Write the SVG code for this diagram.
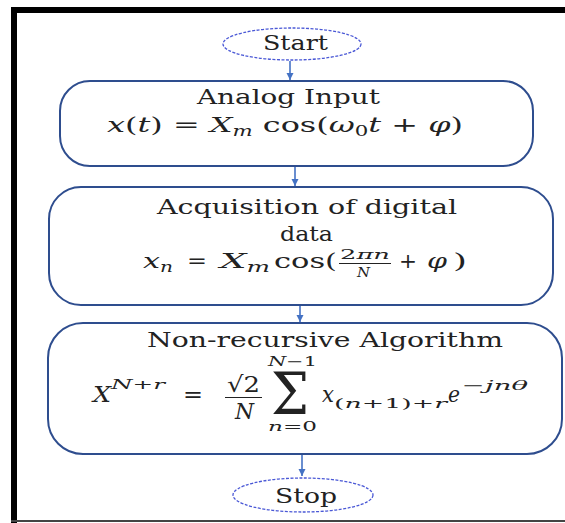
<svg xmlns="http://www.w3.org/2000/svg" width="565" height="523" viewBox="0 0 565 523">
<defs>
<style>
text{font-family:'DejaVu Serif','Liberation Serif','Times New Roman',serif;fill:#222;}
.m{font-style:italic;}
.u{font-style:normal;}
.box{fill:#fff;stroke:#2e4d8e;stroke-width:2;}
.ell{fill:#fff;stroke:#4a58d6;stroke-width:1.3;stroke-dasharray:3 1.5;}
.con{stroke:#4472c4;stroke-width:1.6;fill:none;}
</style>
<marker id="ah" viewBox="0 0 10 10" refX="10" refY="5" markerWidth="4.5" markerHeight="4.5" orient="auto" markerUnits="strokeWidth">
<path d="M0,0 L10,5 L0,10 z" fill="#4472c4"/>
</marker>
</defs>
<rect x="0" y="0" width="565" height="523" fill="#fff"/>
<rect x="11" y="7" width="554" height="6" fill="#000"/>
<rect x="11" y="7" width="6" height="516" fill="#000"/>
<rect x="11" y="520" width="554" height="2" fill="#444"/>

<g id="connectors">
<line class="con" x1="290" y1="61" x2="290" y2="80" marker-end="url(#ah)"/>
<line class="con" x1="295" y1="166" x2="295" y2="186" marker-end="url(#ah)"/>
<line class="con" x1="300" y1="305" x2="300" y2="322" marker-end="url(#ah)"/>
<line class="con" x1="302" y1="455" x2="302" y2="476" marker-end="url(#ah)"/>
</g>

<g id="start">
<ellipse class="ell" cx="292" cy="44" rx="69" ry="16"/>
<text x="263" y="50" font-size="21" textLength="65" lengthAdjust="spacingAndGlyphs">Start</text>
</g>

<g id="analog">
<rect class="box" x="60" y="81" width="473" height="85" rx="30"/>
<text x="197" y="104" font-size="21" textLength="183" lengthAdjust="spacingAndGlyphs">Analog Input</text>
<text class="m" x="107" y="132" font-size="21" textLength="356" lengthAdjust="spacingAndGlyphs">x<tspan class="u">(</tspan>t<tspan class="u">) = </tspan>X<tspan font-size="14" dy="4">m</tspan><tspan class="u" dy="-4"> cos(</tspan>ω<tspan class="u" font-size="14" dy="4">0</tspan><tspan dy="-4">t</tspan><tspan class="u"> + </tspan>φ<tspan class="u">)</tspan></text>
</g>

<g id="acquisition">
<rect class="box" x="49" y="187" width="504" height="118" rx="32"/>
<text x="157" y="214" font-size="21" textLength="300" lengthAdjust="spacingAndGlyphs">Acquisition of digital</text>
<text x="280" y="241" font-size="21" textLength="53" lengthAdjust="spacingAndGlyphs">data</text>
<text class="m" x="143" y="268" font-size="21" textLength="30" lengthAdjust="spacingAndGlyphs">x<tspan font-size="14" dy="4">n</tspan></text>
<text class="u" x="187" y="268" font-size="21" textLength="20" lengthAdjust="spacingAndGlyphs">=</text>
<text class="m" x="220" y="268" font-size="21" textLength="50" lengthAdjust="spacingAndGlyphs">X<tspan font-size="14" dy="4">m</tspan></text>
<text class="u" x="274" y="268" font-size="21" textLength="63" lengthAdjust="spacingAndGlyphs">cos(</text>
<text class="m" x="340" y="259" font-size="13" textLength="50" lengthAdjust="spacingAndGlyphs"><tspan class="u">2</tspan>πn</text>
<line x1="339" y1="263.5" x2="391" y2="263.5" stroke="#222" stroke-width="1"/>
<text class="m" x="357" y="277" font-size="13" textLength="13" lengthAdjust="spacingAndGlyphs">N</text>
<text class="u" x="399" y="268" font-size="21" textLength="18" lengthAdjust="spacingAndGlyphs">+</text>
<text class="m" x="427" y="268" font-size="21" textLength="20" lengthAdjust="spacingAndGlyphs">φ</text>
<text class="u" x="453" y="268" font-size="21" textLength="14" lengthAdjust="spacingAndGlyphs">)</text>
</g>

<g id="algorithm">
<rect class="box" x="48" y="323" width="514" height="131" rx="35"/>
<text x="147" y="347" font-size="21" textLength="356" lengthAdjust="spacingAndGlyphs">Non-recursive Algorithm</text>
<text class="m" x="93" y="402" font-size="22" textLength="18" lengthAdjust="spacingAndGlyphs">X</text>
<text class="m" x="111" y="389" font-size="13" textLength="54" lengthAdjust="spacingAndGlyphs">N<tspan class="u">+</tspan>r</text>
<text class="u" x="183" y="402" font-size="22" textLength="20" lengthAdjust="spacingAndGlyphs">=</text>
<text class="u" x="227" y="392" font-size="22" textLength="33" lengthAdjust="spacingAndGlyphs">√2</text>
<line x1="225" y1="397.5" x2="262" y2="397.5" stroke="#222" stroke-width="1.2"/>
<text class="m" x="235" y="419" font-size="22" textLength="19" lengthAdjust="spacingAndGlyphs">N</text>
<text class="m" x="268" y="366" font-size="13" textLength="49" lengthAdjust="spacingAndGlyphs">N<tspan class="u">−1</tspan></text>
<text class="u" x="271" y="414" font-size="58" textLength="38" lengthAdjust="spacingAndGlyphs">Σ</text>
<text class="m" x="268" y="431" font-size="13" textLength="49" lengthAdjust="spacingAndGlyphs">n<tspan class="u">=0</tspan></text>
<text class="m" x="322" y="402" font-size="22" textLength="12" lengthAdjust="spacingAndGlyphs">x</text>
<text class="m" x="334" y="408" font-size="13" textLength="113" lengthAdjust="spacingAndGlyphs"><tspan class="u">(</tspan>n<tspan class="u">+1)+</tspan>r</text>
<text class="m" x="448" y="402" font-size="22" textLength="12" lengthAdjust="spacingAndGlyphs">e</text>
<text class="m" x="462" y="390" font-size="13" textLength="66" lengthAdjust="spacingAndGlyphs"><tspan class="u">−</tspan>jnθ</text>
</g>

<g id="stop">
<ellipse class="ell" cx="303" cy="495" rx="70" ry="17"/>
<text x="275" y="503" font-size="21" textLength="62" lengthAdjust="spacingAndGlyphs">Stop</text>
</g>
</svg>
